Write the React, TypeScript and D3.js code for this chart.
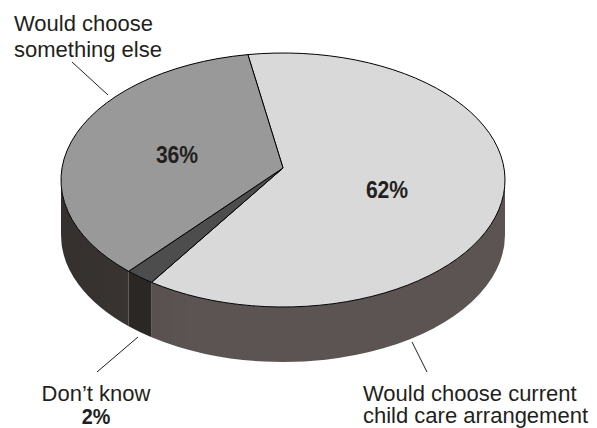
import React from "react";
import * as d3 from "d3";

const categories = [
  "Would choose current child care arrangement",
  "Don't know",
  "Would choose something else",
];
const values = [62, 2, 36];
const percentLabels = ["62%", "2%", "36%"];
const topColors = ["#d9d9d9", "#4d4d4d", "#999999"];
const sideColors = ["#5b5452", "#2d2927", "#3c3735"];

const W = 597;
const H = 428;
const cx = 283;
const cy = 180;
const rx = 222;
const ry = 127;
const depth = 55;
const vy = 168; // projected centre of the pie (perspective)
const e = (vy - cy) / ry;
const startDeg = -10; // d3 pie angle of first slice (0 = 12 o'clock)

// data angle phi (0 = right, clockwise on screen) -> parametric angle theta on the ellipse
const toTheta = (phi: number) => {
  const X = Math.cos(phi);
  const Y = Math.sin(phi);
  const D = 1 + e * Y;
  const c = (Math.sqrt(1 - e * e) * X) / D;
  const s = (Y + e) / D;
  return Math.atan2(s, c);
};
const P = (t: number, dy = 0): [number, number] => [cx + rx * Math.cos(t), cy + ry * Math.sin(t) + dy];

export default function App() {
  const pie = d3
    .pie<number>()
    .sort(null)
    .value((d) => d)
    .startAngle((startDeg * Math.PI) / 180)
    .endAngle((startDeg * Math.PI) / 180 + 2 * Math.PI);
  const arcs = pie(values).map((a) => {
    const t0 = toTheta(a.startAngle - Math.PI / 2);
    let t1 = toTheta(a.endAngle - Math.PI / 2);
    while (t1 <= t0) t1 += 2 * Math.PI;
    return { ...a, t0, t1 };
  });

  const topPath = (t0: number, t1: number) => {
    const p0 = P(t0);
    const p1 = P(t1);
    const large = t1 - t0 > Math.PI ? 1 : 0;
    return `M${cx},${vy}L${p0[0]},${p0[1]}A${rx},${ry} 0 ${large} 1 ${p1[0]},${p1[1]}Z`;
  };

  const sidePath = (t0: number, t1: number) => {
    const segs: [number, number][] = [];
    for (const off of [-4 * Math.PI, -2 * Math.PI, 0, 2 * Math.PI]) {
      const a = Math.max(t0 + off, 0);
      const b = Math.min(t1 + off, Math.PI);
      if (b > a) segs.push([a, b]);
    }
    return segs
      .map(([a, b]) => {
        const p0 = P(a);
        const p1 = P(b);
        const q1 = P(b, depth);
        const q0 = P(a, depth);
        return `M${p0[0]},${p0[1]}A${rx},${ry} 0 0 1 ${p1[0]},${p1[1]}L${q1[0]},${q1[1]}A${rx},${ry} 0 0 0 ${q0[0]},${q0[1]}Z`;
      })
      .join("");
  };

  const font = "'Liberation Sans', Arial, sans-serif";
  const textColor = "#231f20";

  return (
    <svg
      width={W}
      height={H}
      style={{ position: "absolute", left: 0, top: 0, background: "#fff" }}
    >
      <defs>
        <linearGradient id="sideShade" gradientUnits="userSpaceOnUse" x1={cx - rx} x2={cx + rx} y1={0} y2={0}>
          <stop offset="0" stopColor="#000" stopOpacity={0.12} />
          <stop offset="0.3" stopColor="#000" stopOpacity={0} />
          <stop offset="1" stopColor="#000" stopOpacity={0} />
        </linearGradient>
      </defs>
      {arcs.map((a, i) => (
        <path key={"s" + i} d={sidePath(a.t0, a.t1)} fill={sideColors[i]} />
      ))}
      {arcs.map((a, i) => (
        <path key={"sh" + i} d={sidePath(a.t0, a.t1)} fill="url(#sideShade)" />
      ))}
      {arcs.map((a, i) => (
        <path
          key={"t" + i}
          d={topPath(a.t0, a.t1)}
          fill={topColors[i]}
          stroke="#000"
          strokeWidth={1}
          strokeLinejoin="round"
        />
      ))}
      {/* leader lines */}
      <line x1={72} y1={62} x2={108} y2={95} stroke="#231f20" strokeWidth={1} />
      <line x1={97} y1={372} x2={138} y2={337} stroke="#231f20" strokeWidth={1} />
      <line x1={412} y1={342} x2={427} y2={372} stroke="#231f20" strokeWidth={1} />

      {/* labels */}
      <text x={14} y={31} fontFamily={font} fontSize={22} fill={textColor}>
        Would choose
      </text>
      <text x={14} y={57} fontFamily={font} fontSize={22} fill={textColor}>
        something else
      </text>
      <text x={96} y={401} fontFamily={font} fontSize={22} fill={textColor} textAnchor="middle">
        {categories[1].replace("'", "’")}
      </text>
      <g transform="translate(96,424) scale(0.9,1)">
        <text fontFamily={font} fontSize={22} fontWeight="bold" fill={textColor} textAnchor="middle">
          {percentLabels[1]}
        </text>
      </g>
      <text x={363} y={401} fontFamily={font} fontSize={22} fill={textColor}>
        Would choose current
      </text>
      <text x={363} y={423} fontFamily={font} fontSize={22} fill={textColor}>
        child care arrangement
      </text>
      <g transform="translate(177,163) scale(0.88,1)">
        <text fontFamily={font} fontSize={24} fontWeight="bold" fill={textColor} textAnchor="middle">
          {percentLabels[2]}
        </text>
      </g>
      <g transform="translate(387,198) scale(0.88,1)">
        <text fontFamily={font} fontSize={24} fontWeight="bold" fill={textColor} textAnchor="middle">
          {percentLabels[0]}
        </text>
      </g>
    </svg>
  );
}
